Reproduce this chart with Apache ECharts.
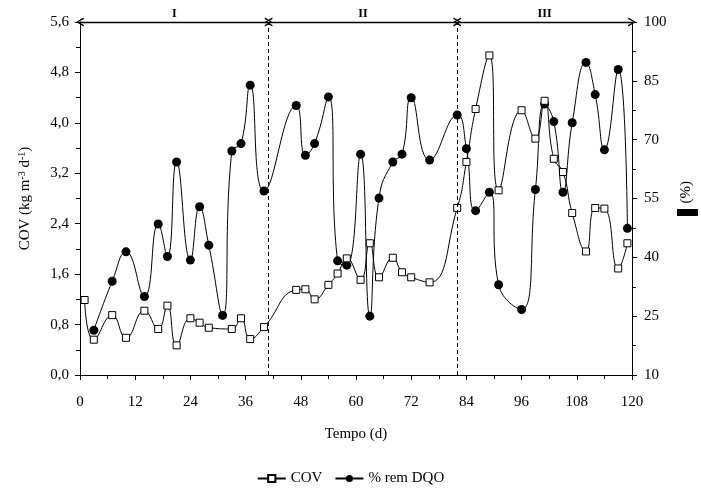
<!DOCTYPE html>
<html>
<head>
<meta charset="utf-8">
<script src="https://cdn.jsdelivr.net/npm/echarts@6/dist/echarts.min.js"></script>
<style>html,body{margin:0;padding:0;background:#fff}#c{width:701px;height:488px}</style>
</head>
<body>
<div id="c"></div>
<script>
// ---- data ----
var covDays = [1,3,7,10,14,17,19,21,24,26,28,33,35,37,40,47,49,51,54,56,58,61,63,65,68,70,72,76,82,84,86,89,91,96,99,101,103,105,107,110,112,114,117,119];
var covValues = [1.19,0.56,0.95,0.59,1.02,0.73,1.10,0.47,0.90,0.83,0.75,0.73,0.90,0.57,0.76,1.35,1.36,1.20,1.43,1.61,1.85,1.51,2.09,1.55,1.86,1.63,1.55,1.47,2.65,3.38,4.22,5.07,2.93,4.20,3.75,4.35,3.43,3.22,2.57,1.96,2.65,2.64,1.69,2.09];
var dqoDays = [3,7,10,14,17,19,21,24,26,28,31,33,35,37,40,47,49,51,54,56,58,61,63,65,68,70,72,76,82,84,86,89,91,96,99,101,103,105,107,110,112,114,117,119];
var dqoValues = [21.4,33.9,41.4,30.0,48.5,40.2,64.3,39.3,52.9,43.1,25.2,67.1,69.0,83.9,56.9,78.7,66.0,69.0,80.9,39.1,38.0,66.3,25.0,55.1,64.3,66.3,80.7,64.8,76.3,67.7,51.9,56.6,33.0,26.7,57.3,79.1,74.6,56.6,74.3,89.7,81.5,67.4,87.9,47.4];
var phaseBounds = [0, 41, 82, 120];
var phaseLabels = ['I', 'II', 'III'];
var seriesNames = ['COV', '% rem DQO'];

var FONT = "'Liberation Serif','Times New Roman',serif";
var chevron = 'path://M0,9 L5,0 L10,9 L8.4,9.4 L5,2.6 L1.6,9.4 Z';

var covData = covDays.map(function(d,i){return [d, covValues[i]];});
var dqoData = dqoDays.map(function(d,i){return [d, dqoValues[i]];});

var phaseLines = [];
for (var i = 0; i < 3; i++) {
  phaseLines.push([
    {coord:[phaseBounds[i], 5.6], symbol: chevron},
    {coord:[phaseBounds[i+1], 5.6], symbol: chevron}
  ]);
}
var phaseText = phaseLabels.map(function(t,i){
  return {coord:[(phaseBounds[i]+phaseBounds[i+1])/2, 5.6], value: t};
});

var chart = echarts.init(document.getElementById('c'), null, {renderer:'canvas'});
var axisCommon = {
  axisLine:{show:true, lineStyle:{color:'#000', width:1}},
  axisTick:{show:true, inside:false, length:5, lineStyle:{color:'#000'}},
  minorTick:{show:true, splitNumber:2, length:4, lineStyle:{color:'#000'}},
  splitLine:{show:false},
  axisLabel:{color:'#000', fontFamily:FONT, fontSize:15}
};
function fmtComma(v){ return v.toFixed(1).replace('.', ','); }

chart.setOption({
  animation:false,
  backgroundColor:'#fff',
  grid:{left:80, right:69, top:22, bottom:113, containLabel:false},
  legend:{
    data: seriesNames,
    left:'center', top:466,
    itemWidth:28, itemHeight:9, itemGap:12,
    textStyle:{color:'#000', fontFamily:FONT, fontSize:15}
  },
  xAxis:Object.assign({}, axisCommon, {
    type:'value', min:0, max:120, interval:12,
    name:'Tempo (d)', nameLocation:'middle', nameGap:52,
    nameTextStyle:{color:'#000', fontFamily:FONT, fontSize:15},
    axisLabel:{color:'#000', fontFamily:FONT, fontSize:15, margin:20}
  }),
  yAxis:[
    Object.assign({}, axisCommon, {
      type:'value', min:0, max:5.6, interval:0.8,
      name:'COV (kg m{sup|-3} d{sup|-1})', nameLocation:'middle', nameGap:47, nameRotate:90,
      nameTextStyle:{color:'#000', fontFamily:FONT, fontSize:15,
        rich:{sup:{fontFamily:FONT, fontSize:10, color:'#000', verticalAlign:'top', padding:[0,0,6,0]}}},
      axisLabel:{color:'#000', fontFamily:FONT, fontSize:15, margin:11, formatter:fmtComma}
    }),
    Object.assign({}, axisCommon, {
      type:'value', min:10, max:100, interval:15, position:'right',
      axisLabel:{color:'#000', fontFamily:FONT, fontSize:15, margin:12}
    })
  ],
  graphic:[
    {type:'text', left:679, top:181, rotation:Math.PI/2, origin:[9,14],
     style:{text:'(%)', fill:'#000', font:'15px '+FONT}},
    {type:'rect', shape:{x:677, y:209, width:21, height:7}, style:{fill:'#000'}}
  ],
  series:[
    {
      name:seriesNames[0], type:'line', data:covData, yAxisIndex:0,
      smooth:0.5, symbol:'rect', symbolSize:7, showAllSymbol:true,
      lineStyle:{color:'#000', width:1},
      itemStyle:{color:'#fff', borderColor:'#000', borderWidth:1},
      z:3,
      markLine:{
        silent:true, symbol:'none',
        lineStyle:{color:'#000', width:1, type:[4,3]},
        label:{show:false},
        data:[{xAxis:phaseBounds[1]},{xAxis:phaseBounds[2]}]
      }
    },
    {
      name:seriesNames[1], type:'line', data:dqoData, yAxisIndex:1,
      smooth:0.5, symbol:'circle', symbolSize:9, showAllSymbol:true,
      lineStyle:{color:'#000', width:1},
      itemStyle:{color:'#000'},
      z:2
    },
    {
      name:'phases', type:'line', data:[], yAxisIndex:0,
      markLine:{
        silent:true, symbolSize:[9,8],
        lineStyle:{color:'#000', width:1.3, type:'solid'},
        itemStyle:{color:'#000'},
        label:{show:false},
        data:phaseLines
      },
      markPoint:{
        silent:true, symbol:'circle', symbolSize:1,
        itemStyle:{color:'rgba(0,0,0,0)'},
        label:{show:true, position:'top', distance:2, color:'#000', fontFamily:FONT,
          fontSize:12, fontWeight:'bold', formatter:function(p){return p.value;}},
        data:phaseText
      }
    }
  ]
});
</script>
</body>
</html>
